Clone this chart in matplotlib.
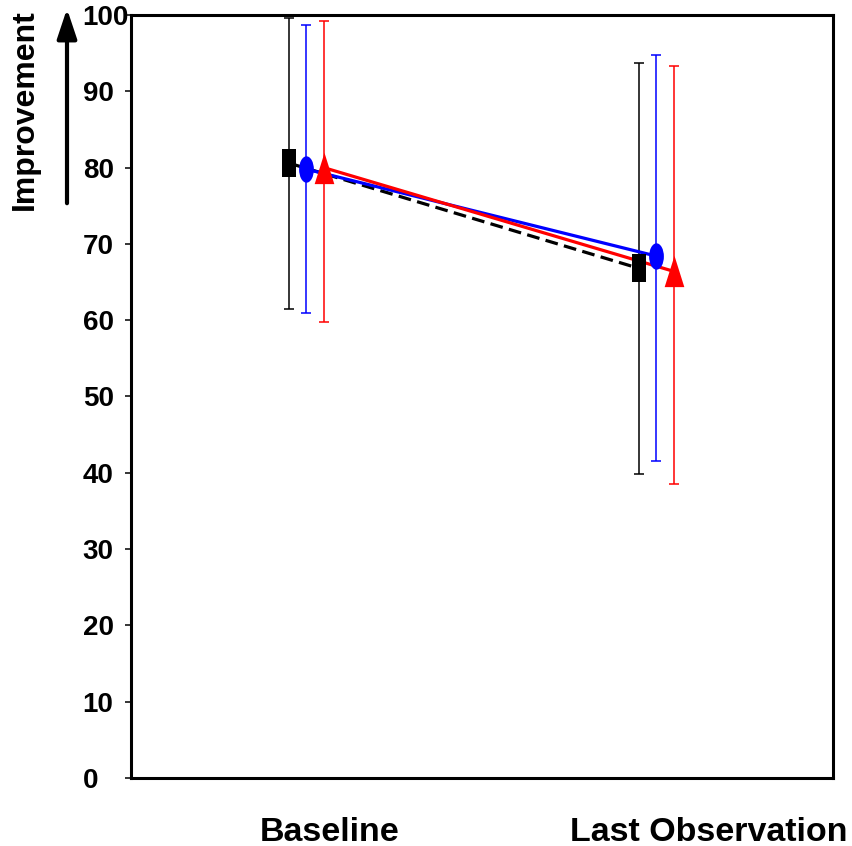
import numpy as np
import matplotlib.pyplot as plt
from matplotlib.path import Path

plt.rcParams['font.family'] = ['Liberation Sans', 'DejaVu Sans']
plt.rcParams['font.weight'] = 'bold'

# values
timepoints = [1, 2]
categories = ['Baseline', 'Last Observation']

black_mean = [80.6, 66.8]
black_lo = [61.4, 39.9]
black_hi = [99.6, 93.7]

blue_mean = [79.8, 68.4]
blue_lo = [61.0, 41.6]
blue_hi = [98.7, 94.8]

red_mean = [80.0, 66.4]
red_lo = [59.7, 38.5]
red_hi = [99.2, 93.3]

yticks = [0, 10, 20, 30, 40, 50, 60, 70, 80, 90, 100]

# custom marker shapes
rect_marker = Path([(-0.5, -1), (0.5, -1), (0.5, 1), (-0.5, 1), (-0.5, -1)],
                   [Path.MOVETO, Path.LINETO, Path.LINETO, Path.LINETO, Path.CLOSEPOLY])
circ = Path.unit_circle()
ellipse_marker = Path(circ.vertices * [0.56, 1.0], circ.codes)
tri_marker = Path([(0, 1), (-0.63, -1), (0.63, -1), (0, 1)],
                  [Path.MOVETO, Path.LINETO, Path.LINETO, Path.CLOSEPOLY])

fig = plt.figure(figsize=(8.53, 8.46), dpi=100)
ax = fig.add_axes([0.1536, 0.0804, 0.823, 0.9019])

x = np.array(timepoints, dtype=float)
offset = 0.05
series = [
    (x - offset, black_mean, black_lo, black_hi, 'black', rect_marker, 20.5, (0, (4, 2))),
    (x, blue_mean, blue_lo, blue_hi, 'blue', ellipse_marker, 19, '-'),
    (x + offset, red_mean, red_lo, red_hi, 'red', tri_marker, 22.5, '-'),
]

for xs, m, lo, hi, col, mk, ms, ls in series:
    m = np.array(m)
    yerr = [m - np.array(lo), np.array(hi) - m]
    ax.errorbar(xs, m, yerr=yerr, fmt='none', ecolor=col, elinewidth=1.1,
                capsize=3.3, capthick=1.1, zorder=2)
    ax.plot(xs, m, color=col, lw=2.3, linestyle=ls, zorder=3)
    ax.plot(xs, m, linestyle='none', marker=mk, markersize=ms, color=col,
            markeredgewidth=0, zorder=4)

ax.set_xlim(0.5, 2.505)
ax.set_ylim(0, 100)
ax.set_xticks([])
ax.set_yticks(yticks)
ax.set_yticklabels([str(t) for t in yticks])
ax.tick_params(axis='y', direction='out', length=4.3, width=1.1, labelsize=20, pad=30.5)
for lab in ax.get_yticklabels():
    lab.set_horizontalalignment('left')
    lab.set_fontweight('bold')
for sp in ax.spines.values():
    sp.set_linewidth(2.2)

label_pos = [0.2835, 0.823]
for cat, px in zip(categories, label_pos):
    ax.annotate(cat, xy=(px, 0), xycoords='axes fraction', xytext=(0, -39),
                textcoords='offset points', ha='center', va='center',
                fontsize=24.5, fontweight='bold')

fig.text(25 / 853, 1 - 110 / 846, 'Improvement', rotation=90, ha='center', va='center',
         fontsize=23, fontweight='bold')
fig.add_artist(plt.matplotlib.patches.FancyArrowPatch(
    (67 / 853, 1 - 206 / 846), (67 / 853, 1 - 6 / 846), transform=fig.transFigure,
    arrowstyle='-|>,head_length=0.9,head_width=0.3', mutation_scale=20,
    color='black', lw=3))

fig.savefig('out.png', dpi=100)
